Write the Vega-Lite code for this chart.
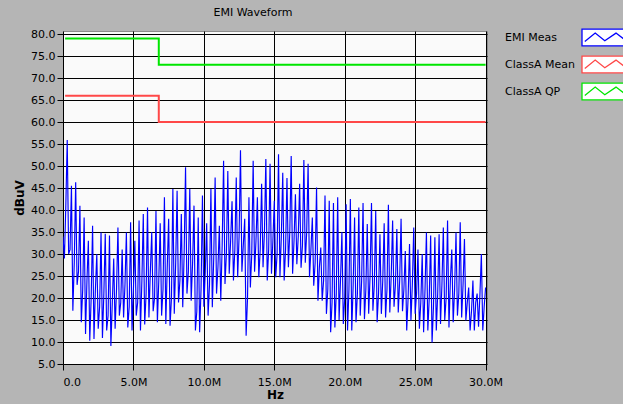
{
"$schema": "https://vega.github.io/schema/vega-lite/v6.json",
"width": 424, "height": 333,
"autosize": {"type": "none"},
"padding": {"left": 63, "top": 31, "right": 136, "bottom": 40},
"background": "#b5b5b5",
"title": {"text": "EMI Waveform", "font": "DejaVu Sans", "fontSize": 11, "fontWeight": "normal", "color": "#000000", "anchor": "middle", "offset": 6, "dx": -22},
"config": {
  "view": {"fill": "#fafafa", "stroke": "#8c8c8c"},
  "axis": {"labelFont": "DejaVu Sans", "labelFontSize": 11, "labelColor": "#000000", "titleFont": "DejaVu Sans", "titleFontSize": 12, "titleFontWeight": "bold", "titleColor": "#000000", "gridColor": "#000000", "gridOpacity": 1, "gridWidth": 1, "tickColor": "#000000", "tickSize": 6, "labelPadding": 2, "domain": false, "labelOverlap": false, "labelBound": false, "tickCount": 30},
  "legend": {"orient": "none", "legendX": 527, "legendY": -7.5, "padding": 5, "rowPadding": 5, "labelFont": "DejaVu Sans", "labelFontSize": 11, "labelColor": "#000000", "labelOffset": -108, "symbolSize": 256, "symbolStrokeWidth": 1.3, "symbolFillColor": "#ffffff", "symbolType": "M-2.75,-1.05H2.75V1.05H-2.75Z M-2.4,0.5L-1.1,-0.55L0.1,0.4L1.5,-0.55L2.75,0.4", "title": null}
},
"datasets": {
"emi": [
{"f":0,"v":34},{"f":100000,"v":29},{"f":200000,"v":41},
{"f":300000,"v":55.9},{"f":400000,"v":30},{"f":500000,"v":31},
{"f":600000,"v":45.5},{"f":700000,"v":17.1},{"f":800000,"v":28},
{"f":900000,"v":46.3},{"f":1000000,"v":23},{"f":1100000,"v":26},
{"f":1200000,"v":41},{"f":1300000,"v":14.5},{"f":1400000,"v":22},
{"f":1500000,"v":38.3},{"f":1600000,"v":11.8},{"f":1700000,"v":24},
{"f":1800000,"v":33},{"f":1900000,"v":10.3},{"f":2000000,"v":20},
{"f":2100000,"v":36.4},{"f":2200000,"v":10.7},{"f":2300000,"v":22},
{"f":2400000,"v":30},{"f":2500000,"v":13},{"f":2600000,"v":18},
{"f":2700000,"v":34.9},{"f":2800000,"v":10.9},{"f":2900000,"v":21},
{"f":3000000,"v":34.6},{"f":3100000,"v":12.6},{"f":3200000,"v":16},
{"f":3300000,"v":34.2},{"f":3400000,"v":9.1},{"f":3500000,"v":19},
{"f":3600000,"v":29},{"f":3700000,"v":13},{"f":3800000,"v":22},
{"f":3900000,"v":36},{"f":4000000,"v":16},{"f":4100000,"v":19},
{"f":4200000,"v":31},{"f":4300000,"v":15.6},{"f":4400000,"v":23},
{"f":4500000,"v":34.9},{"f":4600000,"v":13.3},{"f":4700000,"v":18},
{"f":4800000,"v":37.2},{"f":4900000,"v":12.6},{"f":5000000,"v":22},
{"f":5100000,"v":33},{"f":5200000,"v":16},{"f":5300000,"v":19},
{"f":5400000,"v":37.6},{"f":5500000,"v":12.6},{"f":5600000,"v":24},
{"f":5700000,"v":39.1},{"f":5800000,"v":14},{"f":5900000,"v":21},
{"f":6000000,"v":40.6},{"f":6100000,"v":15.6},{"f":6200000,"v":26},
{"f":6300000,"v":35},{"f":6400000,"v":17},{"f":6500000,"v":20},
{"f":6600000,"v":39.8},{"f":6700000,"v":14.5},{"f":6800000,"v":24},
{"f":6900000,"v":37},{"f":7000000,"v":16},{"f":7100000,"v":22},
{"f":7200000,"v":42.9},{"f":7300000,"v":14.1},{"f":7400000,"v":27},
{"f":7500000,"v":38},{"f":7600000,"v":13.7},{"f":7700000,"v":20},
{"f":7800000,"v":44.8},{"f":7900000,"v":16.4},{"f":8000000,"v":28},
{"f":8100000,"v":44.4},{"f":8200000,"v":19},{"f":8300000,"v":24},
{"f":8400000,"v":39.1},{"f":8500000,"v":17.9},{"f":8600000,"v":30},
{"f":8700000,"v":49.7},{"f":8800000,"v":21},{"f":8900000,"v":26},
{"f":9000000,"v":44.8},{"f":9100000,"v":19.4},{"f":9200000,"v":28},
{"f":9300000,"v":41},{"f":9400000,"v":12.6},{"f":9500000,"v":17},
{"f":9600000,"v":38.3},{"f":9700000,"v":12.2},{"f":9800000,"v":22},
{"f":9900000,"v":43.3},{"f":10000000,"v":18},{"f":10100000,"v":26},
{"f":10200000,"v":37},{"f":10300000,"v":16},{"f":10400000,"v":23},
{"f":10500000,"v":44.8},{"f":10600000,"v":17.9},{"f":10700000,"v":29},
{"f":10800000,"v":47.4},{"f":10900000,"v":21},{"f":11000000,"v":27},
{"f":11100000,"v":36.4},{"f":11200000,"v":19.4},{"f":11300000,"v":32},
{"f":11400000,"v":51.2},{"f":11500000,"v":23.2},{"f":11600000,"v":30},
{"f":11700000,"v":48.9},{"f":11800000,"v":25.5},{"f":11900000,"v":33},
{"f":12000000,"v":42},{"f":12100000,"v":24},{"f":12200000,"v":31},
{"f":12300000,"v":47.4},{"f":12400000,"v":24.7},{"f":12500000,"v":34},
{"f":12600000,"v":53.6},{"f":12700000,"v":26},{"f":12800000,"v":32},
{"f":12900000,"v":38},{"f":13000000,"v":11.4},{"f":13100000,"v":20},
{"f":13200000,"v":42.9},{"f":13300000,"v":22.4},{"f":13400000,"v":30},
{"f":13500000,"v":51.2},{"f":13600000,"v":26},{"f":13700000,"v":33},
{"f":13800000,"v":42.9},{"f":13900000,"v":24.7},{"f":14000000,"v":31},
{"f":14100000,"v":46},{"f":14200000,"v":27},{"f":14300000,"v":35},
{"f":14400000,"v":51.6},{"f":14500000,"v":24},{"f":14600000,"v":31},
{"f":14700000,"v":50.5},{"f":14800000,"v":25.5},{"f":14900000,"v":33},
{"f":15000000,"v":42.1},{"f":15100000,"v":24.7},{"f":15200000,"v":30},
{"f":15300000,"v":52.7},{"f":15400000,"v":24.7},{"f":15500000,"v":34},
{"f":15600000,"v":48.5},{"f":15700000,"v":24},{"f":15800000,"v":31},
{"f":15900000,"v":47.3},{"f":16000000,"v":27},{"f":16100000,"v":35},
{"f":16200000,"v":52.3},{"f":16300000,"v":25.5},{"f":16400000,"v":33},
{"f":16500000,"v":43.6},{"f":16600000,"v":27.7},{"f":16700000,"v":34},
{"f":16800000,"v":46},{"f":16900000,"v":26.9},{"f":17000000,"v":32},
{"f":17100000,"v":51.4},{"f":17200000,"v":28},{"f":17300000,"v":35},
{"f":17400000,"v":50.5},{"f":17500000,"v":24.7},{"f":17600000,"v":31},
{"f":17700000,"v":38.3},{"f":17800000,"v":22.8},{"f":17900000,"v":28},
{"f":18000000,"v":45.1},{"f":18100000,"v":19.4},{"f":18200000,"v":27},
{"f":18300000,"v":31.5},{"f":18400000,"v":19.4},{"f":18500000,"v":24},
{"f":18600000,"v":43.3},{"f":18700000,"v":16.4},{"f":18800000,"v":22},
{"f":18900000,"v":42.1},{"f":19000000,"v":12.2},{"f":19100000,"v":19},
{"f":19200000,"v":41.6},{"f":19300000,"v":13.3},{"f":19400000,"v":21},
{"f":19500000,"v":42.9},{"f":19600000,"v":15},{"f":19700000,"v":24},
{"f":19800000,"v":35},{"f":19900000,"v":14.1},{"f":20000000,"v":20},
{"f":20100000,"v":41.3},{"f":20200000,"v":12.6},{"f":20300000,"v":22},
{"f":20400000,"v":42.5},{"f":20500000,"v":12.6},{"f":20600000,"v":23},
{"f":20700000,"v":38.3},{"f":20800000,"v":14.5},{"f":20900000,"v":21},
{"f":21000000,"v":40.6},{"f":21100000,"v":16},{"f":21200000,"v":24},
{"f":21300000,"v":41.6},{"f":21400000,"v":15.2},{"f":21500000,"v":22},
{"f":21600000,"v":36.8},{"f":21700000,"v":16.4},{"f":21800000,"v":25},
{"f":21900000,"v":41.6},{"f":22000000,"v":17.1},{"f":22100000,"v":23},
{"f":22200000,"v":39.8},{"f":22300000,"v":14.5},{"f":22400000,"v":21},
{"f":22500000,"v":34.5},{"f":22600000,"v":16.4},{"f":22700000,"v":24},
{"f":22800000,"v":37},{"f":22900000,"v":15.6},{"f":23000000,"v":22},
{"f":23100000,"v":41.2},{"f":23200000,"v":16.7},{"f":23300000,"v":25},
{"f":23400000,"v":37.6},{"f":23500000,"v":18},{"f":23600000,"v":23},
{"f":23700000,"v":35.7},{"f":23800000,"v":16.7},{"f":23900000,"v":24},
{"f":24000000,"v":38},{"f":24100000,"v":17},{"f":24200000,"v":22},
{"f":24300000,"v":30.7},{"f":24400000,"v":12.6},{"f":24500000,"v":20},
{"f":24600000,"v":32.3},{"f":24700000,"v":14.9},{"f":24800000,"v":23},
{"f":24900000,"v":36},{"f":25000000,"v":16.4},{"f":25100000,"v":21},
{"f":25200000,"v":31},{"f":25300000,"v":13},{"f":25400000,"v":19},
{"f":25500000,"v":30},{"f":25600000,"v":12.2},{"f":25700000,"v":22},
{"f":25800000,"v":34.9},{"f":25900000,"v":12.6},{"f":26000000,"v":20},
{"f":26100000,"v":34.2},{"f":26200000,"v":9.9},{"f":26300000,"v":18},
{"f":26400000,"v":33.8},{"f":26500000,"v":12.6},{"f":26600000,"v":21},
{"f":26700000,"v":34.5},{"f":26800000,"v":14.1},{"f":26900000,"v":23},
{"f":27000000,"v":36},{"f":27100000,"v":15},{"f":27200000,"v":20},
{"f":27300000,"v":37.6},{"f":27400000,"v":13.3},{"f":27500000,"v":24},
{"f":27600000,"v":31},{"f":27700000,"v":14.5},{"f":27800000,"v":22},
{"f":27900000,"v":34.9},{"f":28000000,"v":16},{"f":28100000,"v":21},
{"f":28200000,"v":37.2},{"f":28300000,"v":15.6},{"f":28400000,"v":23},
{"f":28500000,"v":33.4},{"f":28600000,"v":14.9},{"f":28700000,"v":19},
{"f":28800000,"v":22.4},{"f":28900000,"v":12.6},{"f":29000000,"v":17},
{"f":29100000,"v":24},{"f":29200000,"v":12.6},{"f":29300000,"v":19},
{"f":29400000,"v":21},{"f":29500000,"v":13.5},{"f":29600000,"v":21},
{"f":29700000,"v":30},{"f":29800000,"v":12.6},{"f":29900000,"v":18},
{"f":30000000,"v":22.4}
],
"limits": [
{"series":"ClassA QP","f":150000,"v":79},{"series":"ClassA QP","f":6800000,"v":73},{"series":"ClassA QP","f":30000000,"v":73},
{"series":"ClassA Mean","f":150000,"v":66},{"series":"ClassA Mean","f":6800000,"v":60},{"series":"ClassA Mean","f":30000000,"v":60}
]
},
"layer": [
{
  "data": {"name": "emi"},
  "mark": {"type": "line", "strokeWidth": 1.15, "clip": true},
  "encoding": {
    "x": {"field": "f", "type": "quantitative", "title": "Hz", "scale": {"domain": [0, 30100000], "nice": false, "zero": false},
          "axis": {"values": [0, 5000000, 10000000, 15000000, 20000000, 25000000, 30000000], "labelExpr": "datum.value == 0 ? '0.0' : format(datum.value / 1000000, '.1f') + 'M'", "labelPadding": 6, "titlePadding": 2}},
    "y": {"field": "v", "type": "quantitative", "title": "dBuV", "scale": {"domain": [5, 80.7], "nice": false, "zero": false},
          "axis": {"values": [5,10,15,20,25,30,35,40,45,50,55,60,65,70,75,80], "tickCount": 30, "format": ".1f", "labelPadding": 2, "titlePadding": 4}},
    "color": {"datum": "EMI Meas", "type": "nominal", "scale": {"domain": ["EMI Meas", "ClassA Mean", "ClassA QP"], "range": ["#0000ff", "#ff4848", "#00e600"]}}
  }
},
{
  "data": {"name": "limits"},
  "mark": {"type": "line", "interpolate": "step-after", "strokeWidth": 2, "clip": true},
  "encoding": {
    "x": {"field": "f", "type": "quantitative"},
    "y": {"field": "v", "type": "quantitative"},
    "color": {"field": "series", "type": "nominal"}
  }
}
]
}
